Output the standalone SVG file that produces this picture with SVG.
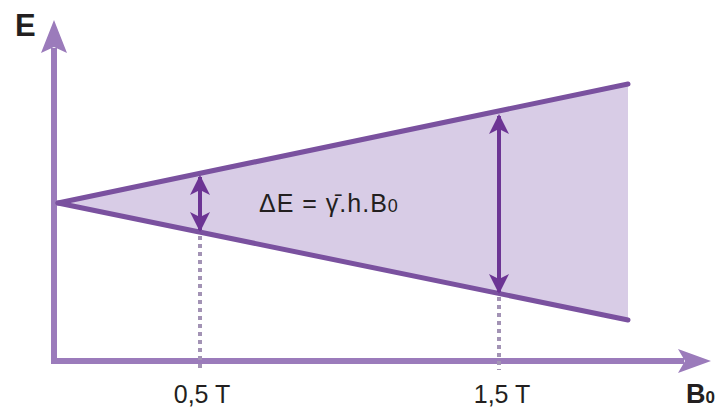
<svg xmlns="http://www.w3.org/2000/svg" width="725" height="409" viewBox="0 0 725 409">
<style>
.axis{stroke:#9b7bbb;stroke-width:6;fill:none}
.edge{stroke:#7a519f;stroke-width:5;fill:none;stroke-linecap:round}
.dbl{stroke:#6c3494;stroke-width:4;fill:none}
.dot{stroke:#a393b5;stroke-width:4;stroke-dasharray:4 4;fill:none}
.lbl{font-family:"Liberation Sans",Arial,sans-serif;fill:#231f20}
</style>
<defs>
<marker id="ah" viewBox="0 0 10 10" refX="9" refY="5" markerWidth="5" markerHeight="5" orient="auto-start-reverse" markerUnits="strokeWidth">
<path d="M0,0 L10,5 L0,10 L2.5,5 Z" fill="#6c3494"/>
</marker>
</defs>
<rect width="725" height="409" fill="#ffffff"/>
<g id="region">
<polygon points="58,203 628,84 628,320" fill="#d8cce6"/>
</g>
<g id="axes">
<line class="axis" x1="54" y1="364" x2="54" y2="48"/>
<polygon points="54,20 41,53 54,47 67,53" fill="#9b7bbb"/>
<line class="axis" x1="51" y1="361" x2="684" y2="361"/>
<polygon points="711,361 678,349 685,361 678,373" fill="#9b7bbb"/>
</g>
<g id="connectors">
<line class="edge" x1="58" y1="203" x2="628" y2="84"/>
<line class="edge" x1="58" y1="203" x2="628" y2="320"/>
<line class="dot" x1="200" y1="236" x2="200" y2="370"/>
<line class="dot" x1="499" y1="297" x2="499" y2="370"/>
<line class="dbl" x1="200" y1="177" x2="200" y2="230" marker-start="url(#ah)" marker-end="url(#ah)"/>
<line class="dbl" x1="499" y1="116" x2="499" y2="292" marker-start="url(#ah)" marker-end="url(#ah)"/>
</g>
<g id="labels">
<text class="lbl" x="15" y="36" font-size="31" font-weight="bold">E</text>
<text class="lbl" x="686" y="403" font-size="27" font-weight="bold">B<tspan font-size="17">0</tspan></text>
<text class="lbl" x="202" y="403" font-size="25" text-anchor="middle">0,5 T</text>
<text class="lbl" x="502" y="403" font-size="25" text-anchor="middle">1,5 T</text>
<text class="lbl" x="259" y="212" font-size="25" letter-spacing="1">ΔE = γ̄.h.B<tspan font-size="18">0</tspan></text>
</g>
</svg>
